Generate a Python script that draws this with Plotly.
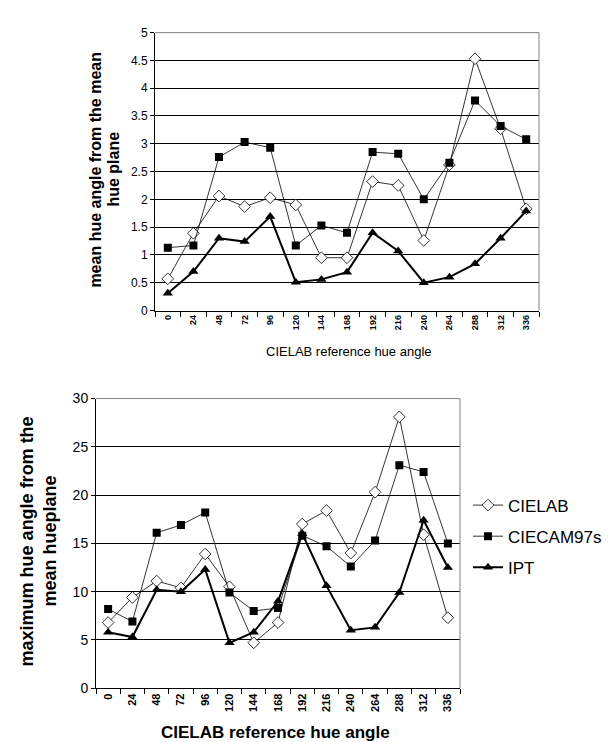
import plotly.graph_objects as go

categories = ["0", "24", "48", "72", "96", "120", "144", "168", "192", "216", "240", "264", "288", "312", "336"]

mean_cielab = [0.57, 1.39, 2.06, 1.87, 2.03, 1.90, 0.95, 0.95, 2.32, 2.25, 1.26, 2.62, 4.53, 3.27, 1.83]
mean_ciecam = [1.13, 1.17, 2.76, 3.03, 2.93, 1.17, 1.53, 1.40, 2.85, 2.82, 2.00, 2.66, 3.78, 3.32, 3.08]
mean_ipt = [0.31, 0.70, 1.30, 1.24, 1.69, 0.51, 0.56, 0.69, 1.40, 1.07, 0.50, 0.60, 0.84, 1.30, 1.79]

max_cielab = [6.8, 9.4, 11.1, 10.4, 13.9, 10.5, 4.7, 6.8, 17.0, 18.4, 14.0, 20.3, 28.1, 15.9, 7.3]
max_ciecam = [8.2, 6.9, 16.1, 16.9, 18.2, 9.9, 8.0, 8.3, 15.8, 14.7, 12.6, 15.3, 23.1, 22.4, 15.0]
max_ipt = [5.8, 5.3, 10.2, 10.0, 12.3, 4.7, 5.8, 9.0, 16.0, 10.6, 6.0, 6.3, 9.9, 17.4, 12.5]

FONT = "Liberation Sans, Arial, sans-serif"

fig = go.Figure()

styles = {
    "CIELAB": dict(line=dict(color="black", width=0.8),
                   marker=dict(symbol="diamond", size=9, color="white", line=dict(color="black", width=0.8))),
    "CIECAM97s": dict(line=dict(color="black", width=0.8),
                      marker=dict(symbol="square", size=8, color="black", line=dict(color="black", width=0))),
    "IPT": dict(line=dict(color="black", width=2),
                marker=dict(symbol="triangle-up", size=9, color="black", line=dict(color="black", width=0))),
}

for name, vals in [("CIELAB", mean_cielab), ("CIECAM97s", mean_ciecam), ("IPT", mean_ipt)]:
    fig.add_trace(go.Scatter(x=categories, y=vals, mode="lines+markers", name=name,
                             showlegend=False, xaxis="x", yaxis="y", **styles[name]))
for name, vals in [("CIELAB", max_cielab), ("CIECAM97s", max_ciecam), ("IPT", max_ipt)]:
    fig.add_trace(go.Scatter(x=categories, y=vals, mode="lines+markers", name=name, legendgroup=name,
                             showlegend=True, xaxis="x2", yaxis="y2", **styles[name]))

W, H = 613, 742
top = dict(l=147, r=531, t=17, b=301)
bot = dict(l=88, r=452, t=391, b=687)

def dom_x(d):
    return [d["l"] / W, d["r"] / W]

def dom_y(d):
    return [1 - d["b"] / H, 1 - d["t"] / H]

common_x = dict(type="category", categoryorder="array", categoryarray=categories,
                range=[-0.5, 14.5], showgrid=False, showline=True, linecolor="black", linewidth=1,
                ticks="outside", tickson="boundaries", ticklen=5, tickcolor="black",
                tickangle=-90, zeroline=False, fixedrange=True)
common_y = dict(showgrid=True, gridcolor="black", gridwidth=1, showline=True, linecolor="black",
                linewidth=1, ticks="outside", ticklen=4, tickcolor="black", zeroline=False,
                fixedrange=True)

fig.update_layout(
    width=W, height=H, margin=dict(l=0, r=0, t=0, b=0),
    paper_bgcolor="white", plot_bgcolor="white",
    font=dict(family=FONT, color="black"),
    xaxis=dict(domain=dom_x(top), anchor="y", tickfont=dict(size=9, weight="bold"), **common_x),
    yaxis=dict(domain=dom_y(top), anchor="x", range=[0, 5], dtick=0.5, tick0=0,
               tickfont=dict(size=12), **common_y),
    xaxis2=dict(domain=dom_x(bot), anchor="y2", tickfont=dict(size=11, weight="bold"), **common_x),
    yaxis2=dict(domain=dom_y(bot), anchor="x2", range=[0, 30], dtick=5, tick0=0,
                tickfont=dict(size=14), **common_y),
    legend=dict(x=460 / W, xanchor="left", y=1 - 532 / H, yanchor="middle",
                font=dict(size=17, family=FONT), bgcolor="rgba(0,0,0,0)", tracegroupgap=6),
    showlegend=True,
)

# gray top/right frame lines
for xr, yr in [("x domain", "y domain"), ("x2 domain", "y2 domain")]:
    fig.add_shape(type="line", xref=xr, yref=yr, x0=0, x1=1, y0=1, y1=1,
                  line=dict(color="#808080", width=1))
    fig.add_shape(type="line", xref=xr, yref=yr, x0=1, x1=1, y0=0, y1=1,
                  line=dict(color="#808080", width=1))

# axis titles
fig.add_annotation(text="<b>mean hue angle from the mean</b>", x=88 / W, y=1 - 157 / H,
                   xref="paper", yref="paper", textangle=-90, showarrow=False,
                   font=dict(size=16, family=FONT), xanchor="center", yanchor="middle")
fig.add_annotation(text="<b>hue plane</b>", x=106 / W, y=1 - 157 / H,
                   xref="paper", yref="paper", textangle=-90, showarrow=False,
                   font=dict(size=16, family=FONT), xanchor="center", yanchor="middle")
fig.add_annotation(text="CIELAB reference hue angle", x=341 / W, y=1 - 343 / H,
                   xref="paper", yref="paper", showarrow=False,
                   font=dict(size=13, family=FONT), xanchor="center", yanchor="middle")
fig.add_annotation(text="<b>maximum hue angle from the</b>", x=19 / W, y=1 - 537 / H,
                   xref="paper", yref="paper", textangle=-90, showarrow=False,
                   font=dict(size=18, family=FONT), xanchor="center", yanchor="middle")
fig.add_annotation(text="<b>mean hueplane</b>", x=42 / W, y=1 - 537 / H,
                   xref="paper", yref="paper", textangle=-90, showarrow=False,
                   font=dict(size=18, family=FONT), xanchor="center", yanchor="middle")
fig.add_annotation(text="<b>CIELAB reference hue angle</b>", x=267 / W, y=1 - 732 / H,
                   xref="paper", yref="paper", showarrow=False,
                   font=dict(size=17, family=FONT), xanchor="center", yanchor="middle")

fig.write_html("out.html")
